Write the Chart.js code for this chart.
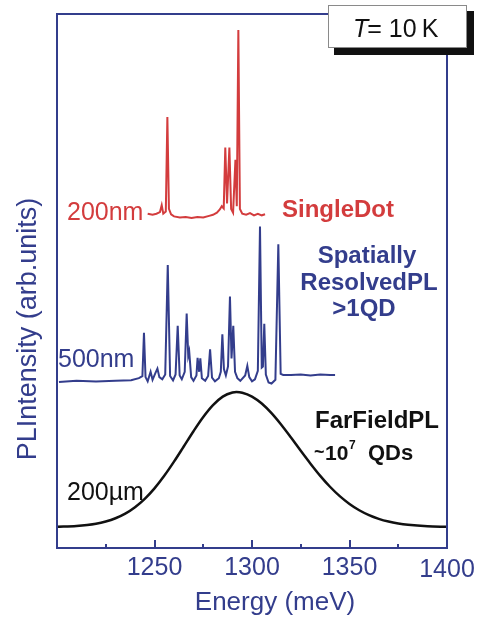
<!DOCTYPE html>
<html>
<head>
<meta charset="utf-8">
<script src="https://cdn.jsdelivr.net/npm/chart.js@4/dist/chart.umd.min.js"></script>
<style>
  html, body { margin: 0; padding: 0; background: #fff; }
  #wrap { width: 478px; height: 619px; position: relative; }
</style>
</head>
<body>
<div id="wrap"><canvas id="plChart"></canvas></div>
<script>
// energy axis (meV) and labelled ticks
const energyTicks = [1250, 1300, 1350, 1400];
const minorTicks = [1225, 1275, 1325, 1375];

// single dot spectrum (200 nm mesa)
const singleEnergy = [1246.5, 1249, 1251, 1252.8, 1253.7, 1254.5, 1255.8, 1256.6, 1257.4, 1258.5,
  1260, 1263, 1266, 1269, 1272, 1275, 1278, 1280, 1282, 1283.5, 1284.5, 1285.5, 1286.3, 1287.2,
  1288.4, 1289.3, 1290.3, 1291.5, 1292.2, 1293.0, 1293.8, 1295, 1297, 1299, 1301, 1303, 1305, 1306.7];
const singleIntensity = [62.6, 62.4, 62.6, 62.9, 64.2, 62.6, 63.0, 80.7, 63.5, 62.5,
  62.1, 61.9, 62.0, 61.8, 62.0, 61.9, 62.2, 62.4, 62.8, 63.4, 64.0, 63.6, 75.0, 64.5,
  75.0, 63.5, 62.8, 72.7, 64.0, 97.0, 63.5, 62.6, 62.4, 62.7, 62.3, 62.6, 62.3, 62.5];

// spatially resolved spectrum (500 nm mesa)
const resolvedEnergy = [1201, 1210, 1220, 1230, 1238, 1242, 1243.8, 1244.6, 1245.4, 1246.5,
  1248, 1249, 1250.5, 1251.5, 1252.5, 1254, 1255.5, 1256.8, 1258, 1259.5,
  1260.8, 1261.9, 1262.9, 1264, 1265.5, 1266.5, 1267.3, 1267.8, 1268.8, 1270,
  1271.5, 1272.1, 1272.9, 1273.5, 1274.3, 1276, 1277.5, 1278.5, 1279.5, 1281,
  1283, 1284, 1284.8, 1285.6, 1286.6, 1287.7, 1288.7, 1289.5, 1290.4, 1291.3,
  1292.5, 1294, 1296.5, 1297.6, 1298.6, 1300, 1301.5, 1303, 1304.1, 1305,
  1305.6, 1306.3, 1307.1, 1308.5, 1310, 1312, 1313.5, 1314.7, 1316, 1320,
  1325, 1330, 1335, 1340, 1342.6];
const resolvedIntensity = [31.1, 31.3, 31.2, 31.3, 31.4, 31.8, 32.2, 40.3, 32.0, 31.2,
  33.0, 31.5, 32.8, 33.6, 32.0, 31.6, 32.5, 53.0, 32.2, 31.4,
  32.5, 41.6, 32.3, 31.6, 33.0, 43.9, 36.0, 36.8, 32.0, 31.3,
  32.3, 35.6, 33.0, 35.5, 31.8, 31.3, 32.2, 37.2, 31.9, 31.2,
  31.8, 33.0, 40.0, 33.5, 32.3, 34.0, 47.1, 35.5, 41.6, 33.0,
  31.8, 31.3, 32.3, 34.1, 32.0, 31.2, 31.6, 33.2, 60.2, 33.8,
  34.0, 42.0, 32.5, 31.0, 30.8, 31.5, 56.9, 32.6, 32.4, 32.4,
  32.5, 32.3, 32.5, 32.4, 32.4];

// far field ensemble spectrum (200 um)
const farEnergy = [1200, 1210, 1220, 1225, 1230, 1235, 1240, 1245, 1250, 1255, 1260, 1265, 1270,
  1275, 1280, 1285, 1290, 1292, 1295, 1300, 1305, 1310, 1315, 1320, 1325, 1330, 1335, 1340,
  1345, 1350, 1355, 1360, 1365, 1370, 1375, 1380, 1390, 1400];
const farIntensity = [3.96, 4.12, 4.55, 4.96, 5.57, 6.44, 7.64, 9.21, 11.17, 13.52, 16.17, 19.01, 21.87,
  24.53, 26.75, 28.34, 29.12, 29.2, 29.08, 28.36, 27.05, 25.25, 23.08, 20.68, 18.2, 15.79, 13.51, 11.47,
  9.71, 8.25, 7.07, 6.15, 5.46, 4.95, 4.59, 4.34, 4.06, 3.96];

const navy = "#333d8c";
const red = "#d33c3d";
const sans = '"Liberation Sans", Arial, Helvetica, sans-serif';

const toPoints = (xs, ys) => xs.map((e, i) => ({ x: e, y: ys[i] }));

const label = (ctx, str, x, y, font, color, align = "left") => {
  ctx.font = font;
  ctx.fillStyle = color;
  ctx.textAlign = align;
  ctx.textBaseline = "alphabetic";
  ctx.fillText(str, x, y);
};

const frame = {
  id: "frame",
  afterDatasetsDraw(chart) {
    const { ctx, chartArea: a, scales } = chart;
    const xs = scales.x;
    ctx.save();
    ctx.strokeStyle = navy;
    ctx.lineWidth = 2;
    ctx.strokeRect(a.left, a.top, a.right - a.left, a.bottom - a.top);

    // inward ticks on the energy axis
    ctx.beginPath();
    energyTicks.forEach((v) => {
      const px = Math.round(xs.getPixelForValue(v));
      ctx.moveTo(px, a.bottom);
      ctx.lineTo(px, a.bottom - 8);
    });
    minorTicks.forEach((v) => {
      const px = Math.round(xs.getPixelForValue(v));
      ctx.moveTo(px, a.bottom);
      ctx.lineTo(px, a.bottom - 4);
    });
    ctx.stroke();

    energyTicks.forEach((v) => {
      label(ctx, String(v), xs.getPixelForValue(v), v === 1400 ? 577 : 575, "25px " + sans, navy, "center");
    });
    label(ctx, "Energy (meV)", 275, 610, "26px " + sans, navy, "center");

    ctx.save();
    ctx.translate(36, 329);
    ctx.rotate(-Math.PI / 2);
    label(ctx, "PLIntensity (arb.units)", 0, 0, "27px " + sans, navy, "center");
    ctx.restore();

    // spectrum annotations
    label(ctx, "200nm", 67, 220, "25px " + sans, red);
    label(ctx, "SingleDot", 282, 217, "bold 24px " + sans, red);
    label(ctx, "500nm", 58, 367, "25px " + sans, navy);
    label(ctx, "Spatially", 367, 263, "bold 24px " + sans, navy, "center");
    label(ctx, "ResolvedPL", 369, 290, "bold 24px " + sans, navy, "center");
    label(ctx, ">1QD", 364, 316, "bold 24px " + sans, navy, "center");
    label(ctx, "200\u00b5m", 67, 500, "25px " + sans, "#111");
    label(ctx, "FarFieldPL", 315, 428, "bold 24px " + sans, "#111");
    label(ctx, "~", 314, 458, "bold 18px " + sans, "#111");
    label(ctx, "10", 325, 460, "bold 21px " + sans, "#111");
    label(ctx, "7", 349, 449, "bold 12px " + sans, "#111");
    label(ctx, "QDs", 368, 460, "bold 22px " + sans, "#111");

    // temperature box with drop shadow
    ctx.fillStyle = "#111";
    ctx.fillRect(334, 11, 140, 44);
    ctx.fillStyle = "#fff";
    ctx.fillRect(328, 5, 139, 43);
    ctx.strokeStyle = "#8a8a8a";
    ctx.lineWidth = 1;
    ctx.strokeRect(328.5, 5.5, 138, 42);
    label(ctx, "T", 353, 37, "italic 25px " + sans, "#111");
    ctx.font = "italic 25px " + sans;
    const tw = ctx.measureText("T").width;
    label(ctx, "= 10\u2009K", 353 + tw - 1, 37, "25px " + sans, "#111");
    ctx.restore();
  },
};

const ctx = document.getElementById("plChart").getContext("2d");
const chart = new Chart(ctx, {
  type: "line",
  data: {
    datasets: [
      {
        label: "Single dot",
        data: toPoints(singleEnergy, singleIntensity),
        borderColor: red,
        borderWidth: 2,
        tension: 0,
        pointRadius: 0,
      },
      {
        label: "Spatially resolved PL",
        data: toPoints(resolvedEnergy, resolvedIntensity),
        borderColor: navy,
        borderWidth: 2,
        tension: 0,
        pointRadius: 0,
      },
      {
        label: "Far field PL",
        data: toPoints(farEnergy, farIntensity),
        borderColor: "#111",
        borderWidth: 2.5,
        cubicInterpolationMode: "monotone",
        pointRadius: 0,
      },
    ],
  },
  options: {
    responsive: true,
    maintainAspectRatio: false,
    animation: false,
    layout: { padding: { left: 57, right: 31, top: 14, bottom: 71 } },
    plugins: { legend: { display: false }, tooltip: { enabled: false } },
    scales: {
      x: { type: "linear", min: 1200, max: 1400, display: false },
      y: { type: "linear", min: 0, max: 100, display: false },
    },
  },
  plugins: [frame],
});
</script>
</body>
</html>
